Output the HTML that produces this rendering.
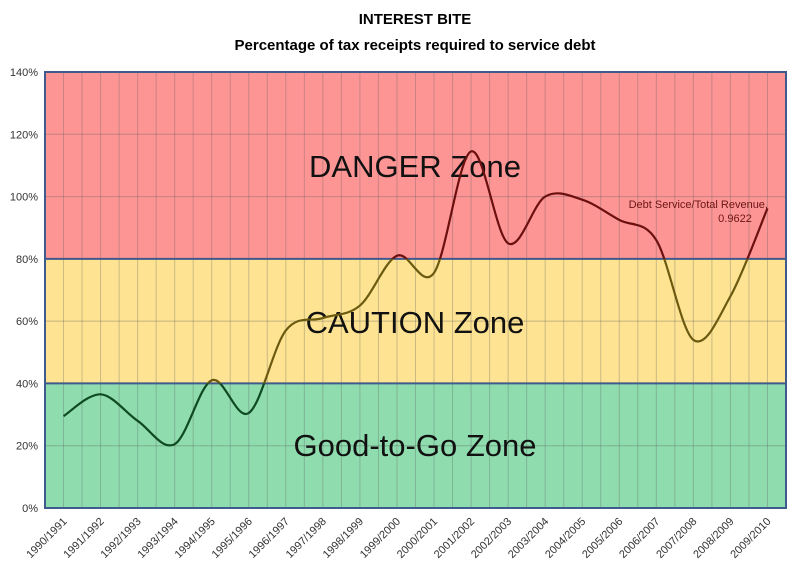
<!DOCTYPE html>
<html><head><meta charset="utf-8"><style>
body{margin:0;background:#fff;}
svg{display:block;font-family:"Liberation Sans",sans-serif;}
</style></head><body>
<svg id="chart" width="800" height="569">
<text x="415" y="24" text-anchor="middle" font-size="15" font-weight="bold">INTEREST BITE</text>
<text x="415" y="50" text-anchor="middle" font-size="15" font-weight="bold">Percentage of tax receipts required to service debt</text>
<g id="zones"></g>
<g id="grid"></g>
<g id="zonelabels">
<text x="415" y="177" text-anchor="middle" font-size="31" fill="#111">DANGER Zone</text>
<text x="415" y="333" text-anchor="middle" font-size="31" fill="#111">CAUTION Zone</text>
<text x="415" y="456" text-anchor="middle" font-size="31" fill="#111">Good-to-Go Zone</text>
</g>
<g id="series"></g>
<g id="axes"></g>
<text x="768" y="208" text-anchor="end" font-size="11" fill="#6b1515">Debt Service/Total Revenue,</text>
<text x="735" y="222" text-anchor="middle" font-size="11" fill="#6b1515">0.9622</text>
</svg>
<script>
const categories=["1990/1991","1991/1992","1992/1993","1993/1994","1994/1995","1995/1996","1996/1997","1997/1998","1998/1999","1999/2000","2000/2001","2001/2002","2002/2003","2003/2004","2004/2005","2005/2006","2006/2007","2007/2008","2008/2009","2009/2010"];
const values=[29.5,36.5,28,20.5,41,30.5,57,61,65,81,75.5,114.5,85,100,99,92.5,86,54,68,96.22];
const yTicks=[0,20,40,60,80,100,120,140];
const zoneBounds=[0,40,80,140];
const NS="http://www.w3.org/2000/svg";
const L=45,R=786,T=72,B=508,YMAX=140;
const step=(R-L)/categories.length;
const xs=i=>L+step*(i+0.5);
const ys=v=>B-(v/YMAX)*(B-T);
function mk(tag,attrs,parent){const e=document.createElementNS(NS,tag);for(const k in attrs)e.setAttribute(k,attrs[k]);parent.appendChild(e);return e;}
const svg=document.getElementById('chart');
const zones=document.getElementById('zones');
const zoneColors=["#8fdcaf","#fde392","#fd9595"];
const zoneNames=["good-zone","caution-zone","danger-zone"];
for(let z=0;z<3;z++){
 const r=mk('rect',{x:L,y:ys(zoneBounds[z+1]),width:R-L,height:ys(zoneBounds[z])-ys(zoneBounds[z+1]),fill:zoneColors[z]},zones);
 
 
}
const grid=document.getElementById('grid');
for(let i=1;i<categories.length*2;i++){
 const x=L+step*i/2;
 const l=mk('line',{x1:x,x2:x,y1:T,y2:B,stroke:'rgba(90,90,90,0.3)','stroke-width':1},grid);
 
 
}
yTicks.forEach(t=>{
 if(t===0||t===140)return;
 const isB=zoneBounds.includes(t);
 const l=mk('line',{x1:L,x2:R,y1:ys(t),y2:ys(t),stroke:isB?'#3f5a8c':'rgba(90,90,90,0.35)','stroke-width':isB?2:1},grid);
 
 
});
const axes=document.getElementById('axes');
const fr=mk('rect',{x:L,y:T,width:R-L,height:B-T,fill:'none',stroke:'#3f5a8c','stroke-width':2},axes);


yTicks.forEach(t=>{
 const tx=mk('text',{x:38,y:ys(t)+4,'text-anchor':'end','font-size':11,fill:'#333'},axes);
 tx.textContent=t+'%';
 
 
});
categories.forEach((c,i)=>{
 const x=xs(i)+4,y=B+14;
 const tx=mk('text',{x:x,y:y,'text-anchor':'end','font-size':11,fill:'#333',transform:`rotate(-45 ${x} ${y})`},axes);
 tx.textContent=c;
 
 
});
// smooth path (Catmull-Rom)
const pts=values.map((v,i)=>[xs(i),ys(v)]);
let d=`M${pts[0][0]},${pts[0][1]}`;
for(let i=0;i<pts.length-1;i++){
 const p0=pts[Math.max(0,i-1)],p1=pts[i],p2=pts[i+1],p3=pts[Math.min(pts.length-1,i+2)];
 const k=1/6;
 d+=` C${p1[0]+(p2[0]-p0[0])*k},${p1[1]+(p2[1]-p0[1])*k} ${p2[0]-(p3[0]-p1[0])*k},${p2[1]-(p3[1]-p1[1])*k} ${p2[0]},${p2[1]}`;
}
const series=document.getElementById('series');
const defs=mk('defs',{},svg);
const lineColors=["#0f4a22","#6b5a10","#6b0f0f"];
for(let z=0;z<3;z++){
 const cp=mk('clipPath',{id:'cz'+z},defs);
 mk('rect',{x:0,y:z===2?0:ys(zoneBounds[z+1]),width:800,height:(z===0?569:ys(zoneBounds[z]))-(z===2?0:ys(zoneBounds[z+1]))},cp);
 const p=mk('path',{d:d,fill:'none',stroke:lineColors[z],'stroke-width':2.2,'clip-path':`url(#cz${z})`},series);
 
 
}
</script>
</body></html>
